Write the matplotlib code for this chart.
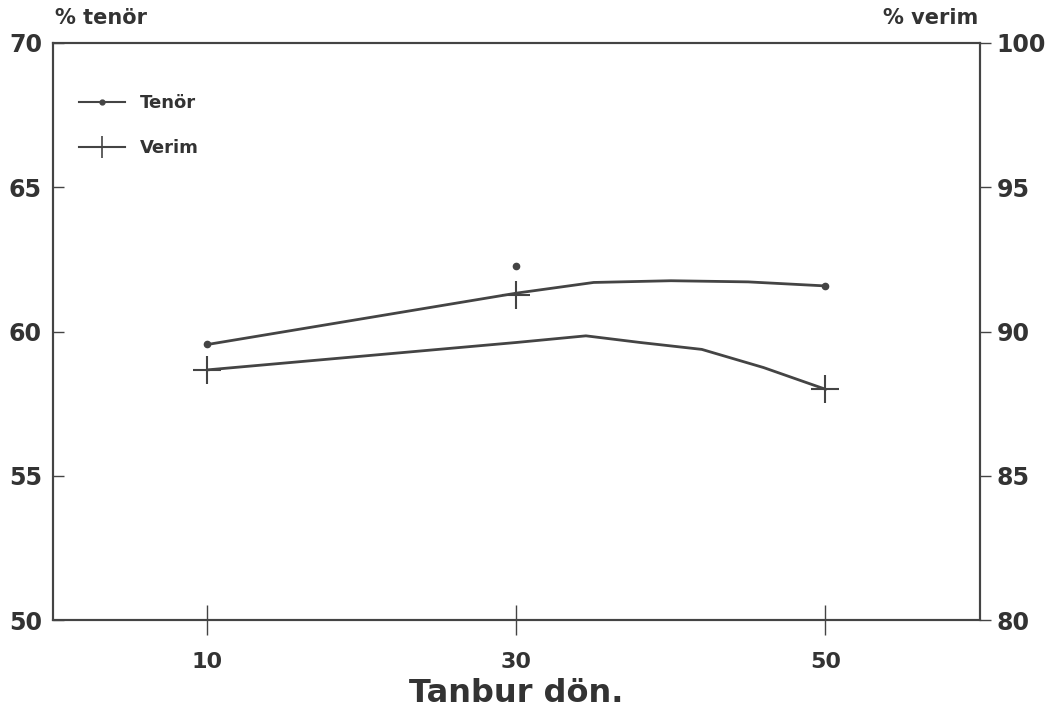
import matplotlib
matplotlib.use("Agg")
import matplotlib.pyplot as plt
from matplotlib.lines import Line2D

# Measured points (Tanbur dönüş hızı)
devir = [10, 30, 50]
tenor = [59.55, 62.27, 61.58]      # % tenör (left axis)
verim = [88.67, 91.27, 88.0]       # % verim (right axis)

# Fitted curves
fit_x_tenor = [10, 30, 35, 40, 45, 50]
fit_tenor = [59.55, 61.33, 61.7, 61.76, 61.72, 61.58]
fit_x_verim = [10, 30, 34.5, 38, 42, 46, 50]
fit_verim = [88.67, 89.62, 89.85, 89.62, 89.38, 88.75, 88.0]

ink = "#444444"
plt.rcParams['font.family'] = ['DejaVu Sans']
plt.rcParams['font.weight'] = 'bold'

fig = plt.figure(figsize=(10.52, 7.25), dpi=100)
ax = fig.add_axes([0.0504, 0.1448, 0.881, 0.7959])
ax2 = ax.twinx()

ax.plot(fit_x_tenor, fit_tenor, color=ink, lw=2)
ax.plot(devir, tenor, 'o', color=ink, ms=4.5, ls='none')
ax2.plot(fit_x_verim, fit_verim, color=ink, lw=2)
ax2.plot(devir, verim, '+', color=ink, ms=20, mew=1.5, ls='none')

ax.set_xlim(0, 60)
ax.set_ylim(50, 70)
ax2.set_ylim(80, 100)
ax.set_xticks(devir)
ax.set_yticks([50, 55, 60, 65, 70])
ax2.set_yticks([80, 85, 90, 95, 100])

for a in (ax, ax2):
    for s in a.spines.values():
        s.set_color(ink)
        s.set_linewidth(1.5)
ax.tick_params(axis='x', direction='inout', length=22, width=1, colors=ink,
               labelsize=16, pad=12, labelcolor='#333333')
ax.tick_params(axis='y', direction='in', length=8, width=1, colors=ink,
               labelsize=17, pad=8, labelcolor='#333333')
ax2.tick_params(axis='y', direction='out', length=8, width=1, colors=ink,
                labelsize=17, pad=4, labelcolor='#333333')

ax.set_xlabel("Tanbur dön.", fontsize=23, fontweight='bold', color='#333333', labelpad=4)
fig.text(0.052, 0.975, "% tenör", fontsize=15, color='#333333', va='center')
fig.text(0.93, 0.975, "% verim", fontsize=15, color='#333333', va='center', ha='right')

handles = [Line2D([], [], color=ink, lw=1.5, marker='o', ms=3.5),
           Line2D([], [], color=ink, lw=1.5, marker='+', ms=16, mew=1.2)]
ax.legend(handles, ["Tenör", "Verim"], loc='upper left', bbox_to_anchor=(0.01, 0.94),
          frameon=False, fontsize=13, handlelength=2.6, labelspacing=1.5,
          labelcolor='#333333')

fig.savefig("out.png", dpi=100)
